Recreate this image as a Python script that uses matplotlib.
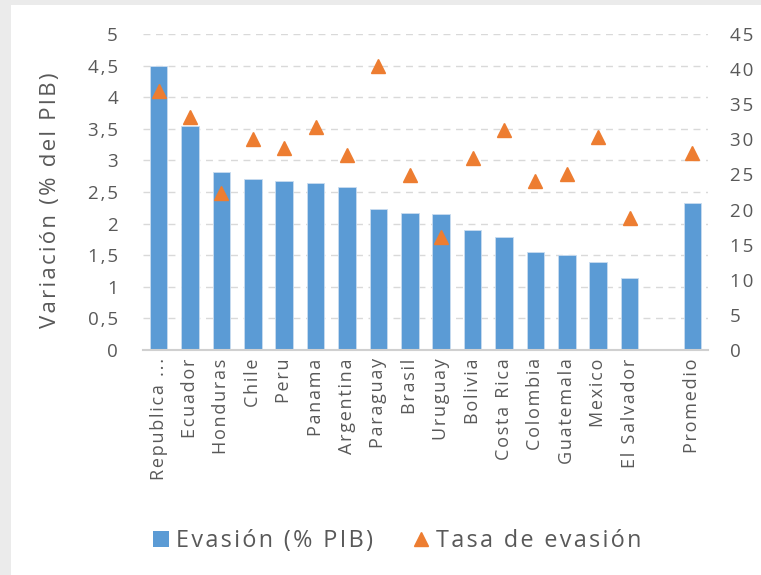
import numpy as np
import matplotlib.pyplot as plt
from matplotlib.patches import Rectangle
from matplotlib.lines import Line2D
from matplotlib.ticker import FuncFormatter

# Data
paises = ['Republica ...', 'Ecuador', 'Honduras', 'Chile', 'Peru', 'Panama',
          'Argentina', 'Paraguay', 'Brasil', 'Uruguay', 'Bolivia', 'Costa Rica',
          'Colombia', 'Guatemala', 'Mexico', 'El Salvador', '', 'Promedio']
evasion_pib = [4.50, 3.55, 2.82, 2.70, 2.68, 2.64, 2.58, 2.23, 2.16, 2.15,
               1.90, 1.79, 1.55, 1.50, 1.40, 1.14, np.nan, 2.33]
tasa_evasion = [36.9, 33.2, 22.4, 30.0, 28.7, 31.8, 27.7, 40.4, 24.9, 16.1,
                27.4, 31.3, 24.1, 25.0, 30.4, 18.8, np.nan, 28.1]

BLUE = '#5b9bd5'
ORANGE = '#ed7d31'
TXT = '#595959'
FONT = ['Open Sans', 'DejaVu Sans']

plt.rcParams['font.family'] = FONT
plt.rcParams['ytick.major.pad'] = 16


def spaced(s, gap='\u200a'):
    # the original chart has wide letter spacing
    return gap.join(s)


fig = plt.figure(figsize=(7.61, 5.75), dpi=100)
fig.patch.set_facecolor('#ebebeb')
# white chart panel (gray strip on top and left)
fig.patches.append(Rectangle((11 / 761, 0), 1, 1 - 5 / 575, transform=fig.transFigure,
                             facecolor='white', edgecolor='none', zorder=-1))

ax = fig.add_axes([143 / 761, 1 - 350 / 575, (708 - 143) / 761, (350 - 34) / 575])
ax.set_facecolor('none')
ax2 = ax.twinx()

x = np.arange(len(paises))
ax.bar(x, evasion_pib, width=0.56, color=BLUE, edgecolor='#c9dcf0', linewidth=0.6, zorder=2)
ax2.plot(x, tasa_evasion, linestyle='none', marker='^', markersize=10.5,
         color=ORANGE, zorder=3)

ax.set_xlim(-0.5, len(paises) - 0.5)
ax.set_ylim(0, 5)
ax2.set_ylim(0, 45)
ax.set_yticks(np.arange(0, 5.01, 0.5))
ax2.set_yticks(np.arange(0, 45.1, 5))
ax.yaxis.set_major_formatter(FuncFormatter(lambda v, p: spaced(f'{v:g}'.replace('.', ','))))
ax2.yaxis.set_major_formatter(FuncFormatter(lambda v, p: spaced(f'{v:g}')))

ax.grid(axis='y', color='#d9d9d9', linestyle=(0, (5, 4)), linewidth=1, zorder=0)
ax.set_axisbelow(True)

for a in (ax, ax2):
    for s in a.spines.values():
        s.set_visible(False)
    a.tick_params(length=0, colors=TXT, labelsize=13.5)
ax.spines['bottom'].set_visible(True)
ax.spines['bottom'].set_color('#d0d0d0')
ax.spines['bottom'].set_linewidth(1.5)

ax.set_xticks(x)
ax.set_xticklabels([spaced(p) for p in paises], rotation=90, fontsize=13, color=TXT)
ax.tick_params(axis='x', pad=6)
ax.tick_params(axis='y', pad=18)

ax.set_ylabel(spaced('Variación (% del PIB)'), fontsize=16, color=TXT)
ax.yaxis.set_label_coords((61 - 143) / 565, 0.475)

handles = [Rectangle((0, 0), 1, 1, facecolor=BLUE, edgecolor='none'),
           Line2D([], [], linestyle='none', marker='^', markersize=10.5, color=ORANGE)]
fig.legend(handles, [spaced('Evasión (% PIB)'), spaced('Tasa de evasión')], loc='center',
           bbox_to_anchor=(397 / 761, 1 - 541 / 575), ncol=2, frameon=False,
           fontsize=16.8, labelcolor=TXT, handlelength=0.7, handletextpad=0.3,
           columnspacing=1.7)

fig.savefig('out.png', dpi=100, facecolor=fig.get_facecolor())
